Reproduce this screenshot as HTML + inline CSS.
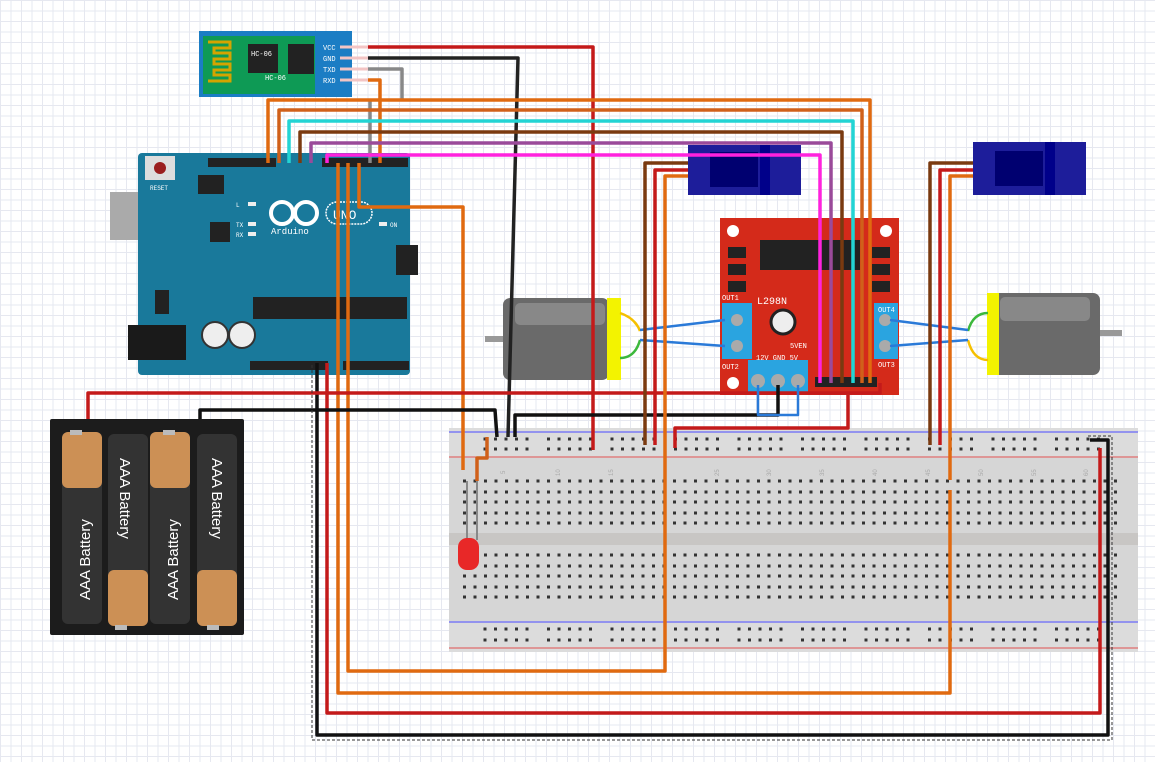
<!DOCTYPE html>
<html><head><meta charset="utf-8"><style>
html,body{margin:0;padding:0;}
body{width:1155px;height:762px;overflow:hidden;background:#fff;
background-image:linear-gradient(#e6e8f0 1px,transparent 1px),linear-gradient(90deg,#e6e8f0 1px,transparent 1px);
background-size:10.5px 10.5px;}
svg{position:absolute;left:0;top:0;}
text{font-family:"Liberation Mono",monospace;}
text.sans{font-family:"Liberation Sans",sans-serif;}
</style></head><body>
<svg id="s" width="1155" height="762" viewBox="0 0 1155 762" xmlns="http://www.w3.org/2000/svg">
<!-- Breadboard -->
<rect x="449" y="428" width="689" height="224" fill="#dcdcdc"/>
<rect x="449" y="458" width="689" height="163" fill="#d6d6d6"/>
<rect x="449" y="533" width="689" height="12" fill="#c8c6c4"/>
<line x1="449" y1="432" x2="1138" y2="432" stroke="#4a4aff" stroke-width="1"/>
<line x1="449" y1="457" x2="1138" y2="457" stroke="#e05050" stroke-width="1"/>
<line x1="449" y1="622" x2="1138" y2="622" stroke="#4a4aff" stroke-width="1"/>
<line x1="449" y1="648" x2="1138" y2="648" stroke="#e05050" stroke-width="1"/>
<g id="holes"></g>
<g font-size="6" fill="#aaa">
<text class="sans" x="505" y="474" transform="rotate(-90 505 474)">5</text>
<text class="sans" x="560" y="476" transform="rotate(-90 560 476)">10</text>
<text class="sans" x="613" y="476" transform="rotate(-90 613 476)">15</text>
<text class="sans" x="719" y="476" transform="rotate(-90 719 476)">25</text>
<text class="sans" x="771" y="476" transform="rotate(-90 771 476)">30</text>
<text class="sans" x="824" y="476" transform="rotate(-90 824 476)">35</text>
<text class="sans" x="877" y="476" transform="rotate(-90 877 476)">40</text>
<text class="sans" x="930" y="476" transform="rotate(-90 930 476)">45</text>
<text class="sans" x="983" y="476" transform="rotate(-90 983 476)">50</text>
<text class="sans" x="1036" y="476" transform="rotate(-90 1036 476)">55</text>
<text class="sans" x="1088" y="476" transform="rotate(-90 1088 476)">60</text>
</g>

<!-- Battery -->
<rect x="50" y="419" width="194" height="216" rx="2" fill="#1c1c1c"/>
<g>
<rect x="62" y="432" width="40" height="192" rx="6" fill="#333"/>
<rect x="62" y="432" width="40" height="56" rx="6" fill="#cc9055"/>
<rect x="108" y="434" width="40" height="192" rx="6" fill="#333"/>
<rect x="108" y="570" width="40" height="56" rx="6" fill="#cc9055"/>
<rect x="150" y="432" width="40" height="192" rx="6" fill="#333"/>
<rect x="150" y="432" width="40" height="56" rx="6" fill="#cc9055"/>
<rect x="197" y="434" width="40" height="192" rx="6" fill="#333"/>
<rect x="197" y="570" width="40" height="56" rx="6" fill="#cc9055"/>
<rect x="70" y="430" width="12" height="5" fill="#bbb"/><rect x="163" y="430" width="12" height="5" fill="#bbb"/>
<rect x="115" y="625" width="12" height="5" fill="#bbb"/><rect x="207" y="625" width="12" height="5" fill="#bbb"/>
</g>
<g fill="#fff" font-size="15">
<text class="sans" transform="translate(90 600) rotate(-90)">AAA Battery</text>
<text class="sans" transform="translate(120 458) rotate(90)">AAA Battery</text>
<text class="sans" transform="translate(178 600) rotate(-90)">AAA Battery</text>
<text class="sans" transform="translate(212 458) rotate(90)">AAA Battery</text>
</g>

<!-- HC-06 -->
<rect x="199" y="31" width="153" height="66" fill="#1b7dc4"/>
<rect x="203" y="36" width="112" height="58" fill="#0e9a55"/>
<path d="M208 42h22v6h-16v5h16v6h-16v5h16v6h-16v5h16v6h-22" fill="none" stroke="#d4a400" stroke-width="3"/>
<rect x="248" y="44" width="30" height="29" fill="#222"/>
<rect x="288" y="44" width="26" height="30" fill="#222"/>
<g fill="#fff" font-size="7"><text x="251" y="56">HC-06</text><text x="265" y="80">HC-06</text></g>
<g fill="#fff" font-size="7"><text x="323" y="50">VCC</text><text x="323" y="61">GND</text><text x="323" y="72">TXD</text><text x="323" y="83">RXD</text></g>
<g stroke="#f3c5c5" stroke-width="3"><line x1="340" y1="47" x2="370" y2="47"/><line x1="340" y1="58" x2="370" y2="58"/><line x1="340" y1="69" x2="370" y2="69"/><line x1="340" y1="80" x2="370" y2="80"/></g>

<!-- Arduino -->
<rect x="110" y="192" width="68" height="48" fill="#aaa"/>
<rect x="138" y="153" width="272" height="222" rx="4" fill="#19799b"/>
<rect x="128" y="325" width="58" height="35" fill="#1a1a1a"/>
<rect x="145" y="156" width="30" height="24" fill="#ddd"/><circle cx="160" cy="168" r="6" fill="#9a1e1e"/>
<rect x="208" y="158" width="68" height="9" fill="#222"/><rect x="322" y="158" width="86" height="9" fill="#222"/>
<rect x="250" y="361" width="78" height="9" fill="#222"/><rect x="343" y="361" width="66" height="9" fill="#222"/>
<rect x="198" y="175" width="26" height="19" fill="#222"/>
<rect x="210" y="222" width="20" height="20" fill="#222"/>
<rect x="253" y="297" width="154" height="22" fill="#222"/>
<rect x="155" y="290" width="14" height="24" fill="#222"/>
<circle cx="215" cy="335" r="13" fill="#eee" stroke="#333" stroke-width="2"/><circle cx="242" cy="335" r="13" fill="#eee" stroke="#333" stroke-width="2"/>
<rect x="396" y="245" width="22" height="30" fill="#222"/>
<circle cx="282" cy="213" r="11" fill="none" stroke="#fff" stroke-width="4"/><circle cx="306" cy="213" r="11" fill="none" stroke="#fff" stroke-width="4"/>
<text x="271" y="234" fill="#fff" font-size="9">Arduino</text>
<rect x="326" y="202" width="46" height="22" rx="11" fill="none" stroke="#fff" stroke-width="1.5" stroke-dasharray="2 1"/>
<text x="333" y="219" fill="#fff" font-size="13">UNO</text>
<text x="150" y="190" fill="#fff" font-size="6">RESET</text>
<text x="236" y="207" fill="#fff" font-size="6">L</text><text x="236" y="227" fill="#fff" font-size="6">TX</text><text x="236" y="237" fill="#fff" font-size="6">RX</text>
<text x="390" y="227" fill="#fff" font-size="6">ON</text>
<rect x="248" y="202" width="8" height="4" fill="#eee"/><rect x="248" y="222" width="8" height="4" fill="#eee"/><rect x="248" y="232" width="8" height="4" fill="#eee"/><rect x="379" y="222" width="8" height="4" fill="#eee"/>

<!-- Servos -->
<rect x="688" y="145" width="113" height="50" fill="#1d1d9a"/><rect x="710" y="152" width="48" height="35" fill="#000070"/><rect x="760" y="145" width="10" height="50" fill="#00008a"/>
<rect x="973" y="142" width="113" height="53" fill="#1d1d9a"/><rect x="995" y="151" width="48" height="35" fill="#000070"/><rect x="1045" y="142" width="10" height="53" fill="#00008a"/>

<!-- Motors -->
<rect x="485" y="336" width="20" height="6" fill="#999"/>
<rect x="503" y="298" width="106" height="82" rx="7" fill="#6a6a6a"/><rect x="515" y="303" width="90" height="22" rx="5" fill="#888"/>
<rect x="607" y="298" width="14" height="82" fill="#f3f300"/>
<rect x="1100" y="330" width="22" height="6" fill="#999"/>
<rect x="992" y="293" width="108" height="82" rx="7" fill="#6a6a6a"/><rect x="1000" y="297" width="90" height="24" rx="5" fill="#888"/>
<rect x="987" y="293" width="12" height="82" fill="#f3f300"/>

<!-- L298N -->
<rect x="720" y="218" width="179" height="177" fill="#d42a1a"/>
<rect x="760" y="240" width="100" height="30" fill="#222"/>
<rect x="722" y="303" width="30" height="56" fill="#2aa4e0"/><rect x="874" y="303" width="24" height="56" fill="#2aa4e0"/>
<rect x="748" y="360" width="60" height="32" fill="#2aa4e0"/>
<circle cx="737" cy="320" r="6" fill="#aaa"/><circle cx="737" cy="346" r="6" fill="#aaa"/>
<circle cx="885" cy="320" r="6" fill="#aaa"/><circle cx="885" cy="346" r="6" fill="#aaa"/>
<circle cx="758" cy="381" r="7" fill="#aaa"/><circle cx="778" cy="381" r="7" fill="#aaa"/><circle cx="798" cy="381" r="7" fill="#aaa"/>
<circle cx="783" cy="322" r="12" fill="#eee" stroke="#222" stroke-width="3"/>
<circle cx="733" cy="231" r="6" fill="#fff"/><circle cx="886" cy="231" r="6" fill="#fff"/><circle cx="733" cy="383" r="6" fill="#fff"/>
<g fill="#222"><rect x="728" y="247" width="18" height="11"/><rect x="728" y="264" width="18" height="11"/><rect x="728" y="281" width="18" height="11"/><rect x="872" y="247" width="18" height="11"/><rect x="872" y="264" width="18" height="11"/><rect x="872" y="281" width="18" height="11"/></g>
<text x="757" y="304" fill="#fff" font-size="10">L298N</text>
<g fill="#fff" font-size="7"><text x="722" y="300">OUT1</text><text x="722" y="369">OUT2</text><text x="878" y="312">OUT4</text><text x="878" y="367">OUT3</text><text x="756" y="360">12V GND  5V</text><text x="790" y="348">5VEN</text></g>
<rect x="815" y="377" width="62" height="10" fill="#222"/>

<!-- Motor wires -->
<g fill="none" stroke-width="2.5">
<path d="M620 313 q15 5 20 18" stroke="#f5c000"/><path d="M620 358 q15 0 20 -18" stroke="#3cb83c"/>
<path d="M640 330 L725 320 M640 340 L725 346" stroke="#2a7ad8"/>
<path d="M988 313 q-15 0 -20 18" stroke="#3cb83c"/><path d="M988 360 q-15 0 -20 -20" stroke="#f5c000"/>
<path d="M968 330 L890 320 M968 340 L890 346" stroke="#2a7ad8"/>
</g>

<!-- Wires -->
<g fill="none" stroke-width="3.5" stroke-linejoin="round">
<path d="M368 47H593V450" stroke="#c41a1a"/>
<path d="M368 58H518L508 437" stroke="#222"/>
<path d="M368 69H402V100 M370 100V163" stroke="#888"/>
<path d="M368 80H380V163" stroke="#e06a10"/>
<path d="M268 163V100H870V383" stroke="#e06a10"/>
<path d="M279 163V110H862V383" stroke="#d0601a"/>
<path d="M289 163V121H853V383" stroke="#22d4d4"/>
<path d="M300 163V132H842V383" stroke="#7a3a10"/>
<path d="M311 163V143H831V383" stroke="#9a4a9a"/>
<path d="M327 163V155H820V383" stroke="#ff22dd"/>
<path d="M359 163V207H463V470" stroke="#e06a10"/>
<path d="M338 163V693H950V490" stroke="#e06a10"/>
<path d="M348 163V671H665V480" stroke="#e06a10"/>
<path d="M327 363V713H1100V448" stroke="#c41a1a"/>
<path d="M317 363V735H1108V440H1090" stroke="#111"/>
<path d="M88 419V393H880V383" stroke="#c41a1a"/>
<path d="M200 419V410H495L497 437" stroke="#111"/>
<path d="M778 385V415H515V437" stroke="#111"/>
<path d="M758 385V415H798V385" stroke="#2a7ad8" stroke-width="2.5"/>
<path d="M675 448V428H848V395" stroke="#c41a1a"/>
<path d="M688 163H645V445" stroke="#7a3a10"/>
<path d="M688 170H655V445" stroke="#c41a1a"/>
<path d="M688 176H665V480" stroke="#e06a10"/>
<path d="M973 163H930V445" stroke="#7a3a10"/>
<path d="M973 170H940V445" stroke="#c41a1a"/>
<path d="M973 176H950V480" stroke="#e06a10"/>
<path d="M487 437V458H477V481" stroke="#d0601a"/>
</g>
<path d="M312 365V740H1112V436H1086" fill="none" stroke="#333" stroke-width="1" stroke-dasharray="3 2"/>
<!-- LED -->
<path d="M467 481V540 M477 481V540" stroke="#888" stroke-width="2"/>
<rect x="458" y="538" width="21" height="32" rx="9" fill="#e82828"/>
</svg>
<script>
var g=document.getElementById('holes'),h='';
function hole(x,y){h+='<rect x="'+(x-1.5)+'" y="'+(y-1.5)+'" width="3" height="3" fill="#333"/>';}
var rows=[481,492,502,513,523,555,566,576,587,597];
for(var c=0;c<63;c++){var x=464.5+c*10.5;for(var r=0;r<rows.length;r++)hole(x,rows[r]);}
for(var k=0;k<10;k++){for(var j=0;j<5;j++){var x=485+k*63.5+j*10.5;[439,449,629,640].forEach(function(y){hole(x,y);});}}
g.innerHTML=h;
</script>
</body></html>
